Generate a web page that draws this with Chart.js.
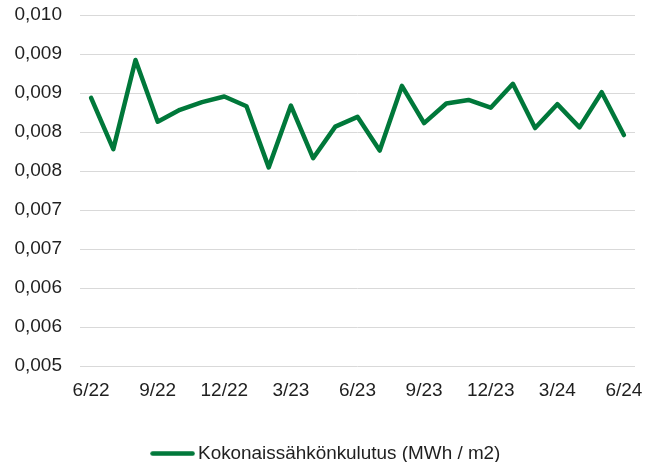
<!DOCTYPE html>
<html>
<head>
<meta charset="utf-8">
<script src="https://cdn.jsdelivr.net/npm/chart.js@4"></script>
<style>
  html, body { margin: 0; padding: 0; background: #fff; }
  #wrap { width: 657px; height: 462px; }
</style>
</head>
<body>
<div id="wrap"><canvas id="chart"></canvas></div>
<script>
const months = ['6/22','7/22','8/22','9/22','10/22','11/22','12/22','1/23','2/23','3/23','4/23','5/23',
                '6/23','7/23','8/23','9/23','10/23','11/23','12/23','1/24','2/24','3/24','4/24','5/24','6/24'];
const consumption = [0.00882, 0.00809, 0.00936, 0.00848, 0.00865, 0.00876, 0.00884, 0.00870, 0.00783,
                     0.00871, 0.00796, 0.00841, 0.00855, 0.00807, 0.00899, 0.00846, 0.00874, 0.00879,
                     0.00868, 0.00902, 0.00839, 0.00873, 0.00840, 0.00890, 0.00829];
const yMin = 0.005;
const yMax = 0.010;
const yTickLabels = ['0,005','0,006','0,006','0,007','0,007','0,008','0,008','0,009','0,009','0,010'];
const seriesName = 'Kokonaissähkönkulutus (MWh / m2)';

const green = '#00783a';
const tickFont = { family: '"Liberation Sans", Arial, sans-serif', size: 19 };

// legend sample: a 45px line that sits close to the text
const legendLine = document.createElement('canvas');
legendLine.width = 45;
legendLine.height = 5;
(function() {
    const c = legendLine.getContext('2d');
    c.strokeStyle = green;
    c.lineWidth = 4.5;
    c.lineCap = 'round';
    c.beginPath();
    c.moveTo(2.5, 2.5);
    c.lineTo(42.5, 2.5);
    c.stroke();
})();

new Chart(document.getElementById('chart'), {
    type: 'line',
    data: {
        labels: months,
        datasets: [{
            label: seriesName,
            data: consumption,
            borderColor: green,
            backgroundColor: green,
            borderWidth: 4.5,
            borderJoinStyle: 'round',
            borderCapStyle: 'round',
            pointRadius: 0,
            tension: 0,
            fill: false
        }]
    },
    options: {
        responsive: true,
        maintainAspectRatio: false,
        animation: false,
        layout: { padding: { top: 15, right: 0, left: 0, bottom: -11 } },
        plugins: {
            tooltip: { enabled: false },
            legend: {
                position: 'bottom',
                labels: {
                    usePointStyle: true,
                    pointStyle: legendLine,
                    pointStyleWidth: 32,
                    boxHeight: 4,
                    padding: 2,
                    color: '#1f1f1f',
                    font: { family: '"Liberation Sans", Arial, sans-serif', size: 18.9 }
                }
            }
        },
        scales: {
            x: {
                offset: true,
                grid: { display: false, drawTicks: false },
                border: { display: false },
                ticks: {
                    autoSkip: false,
                    maxRotation: 0,
                    padding: 13,
                    color: '#1f1f1f',
                    font: tickFont,
                    callback: function(value, index) {
                        return index % 3 === 0 ? months[index] : '';
                    }
                },
                afterFit: function(scale) { scale.height = 76; }
            },
            y: {
                min: yMin,
                max: yMax,
                grid: { color: '#d9d9d9', lineWidth: 1, drawTicks: false },
                border: { display: false },
                ticks: {
                    padding: 18,
                    color: '#1f1f1f',
                    font: tickFont,
                    callback: function(value, index) { return yTickLabels[index]; }
                },
                afterBuildTicks: function(scale) {
                    const step = (yMax - yMin) / (yTickLabels.length - 1);
                    scale.ticks = yTickLabels.map(function(_, i) { return { value: yMin + i * step }; });
                },
                afterFit: function(scale) {
                    scale.width = 80;
                    scale.paddingTop = 0;
                    scale.paddingBottom = 0;
                }
            },
            // empty strip on the right, keeps the legend centred on the whole canvas
            yRight: {
                type: 'linear',
                position: 'right',
                grid: { display: false, drawTicks: false },
                border: { display: false },
                ticks: { display: false },
                afterFit: function(scale) {
                    scale.width = 22;
                    scale.paddingTop = 0;
                    scale.paddingBottom = 0;
                }
            }
        }
    }
});
</script>
</body>
</html>
